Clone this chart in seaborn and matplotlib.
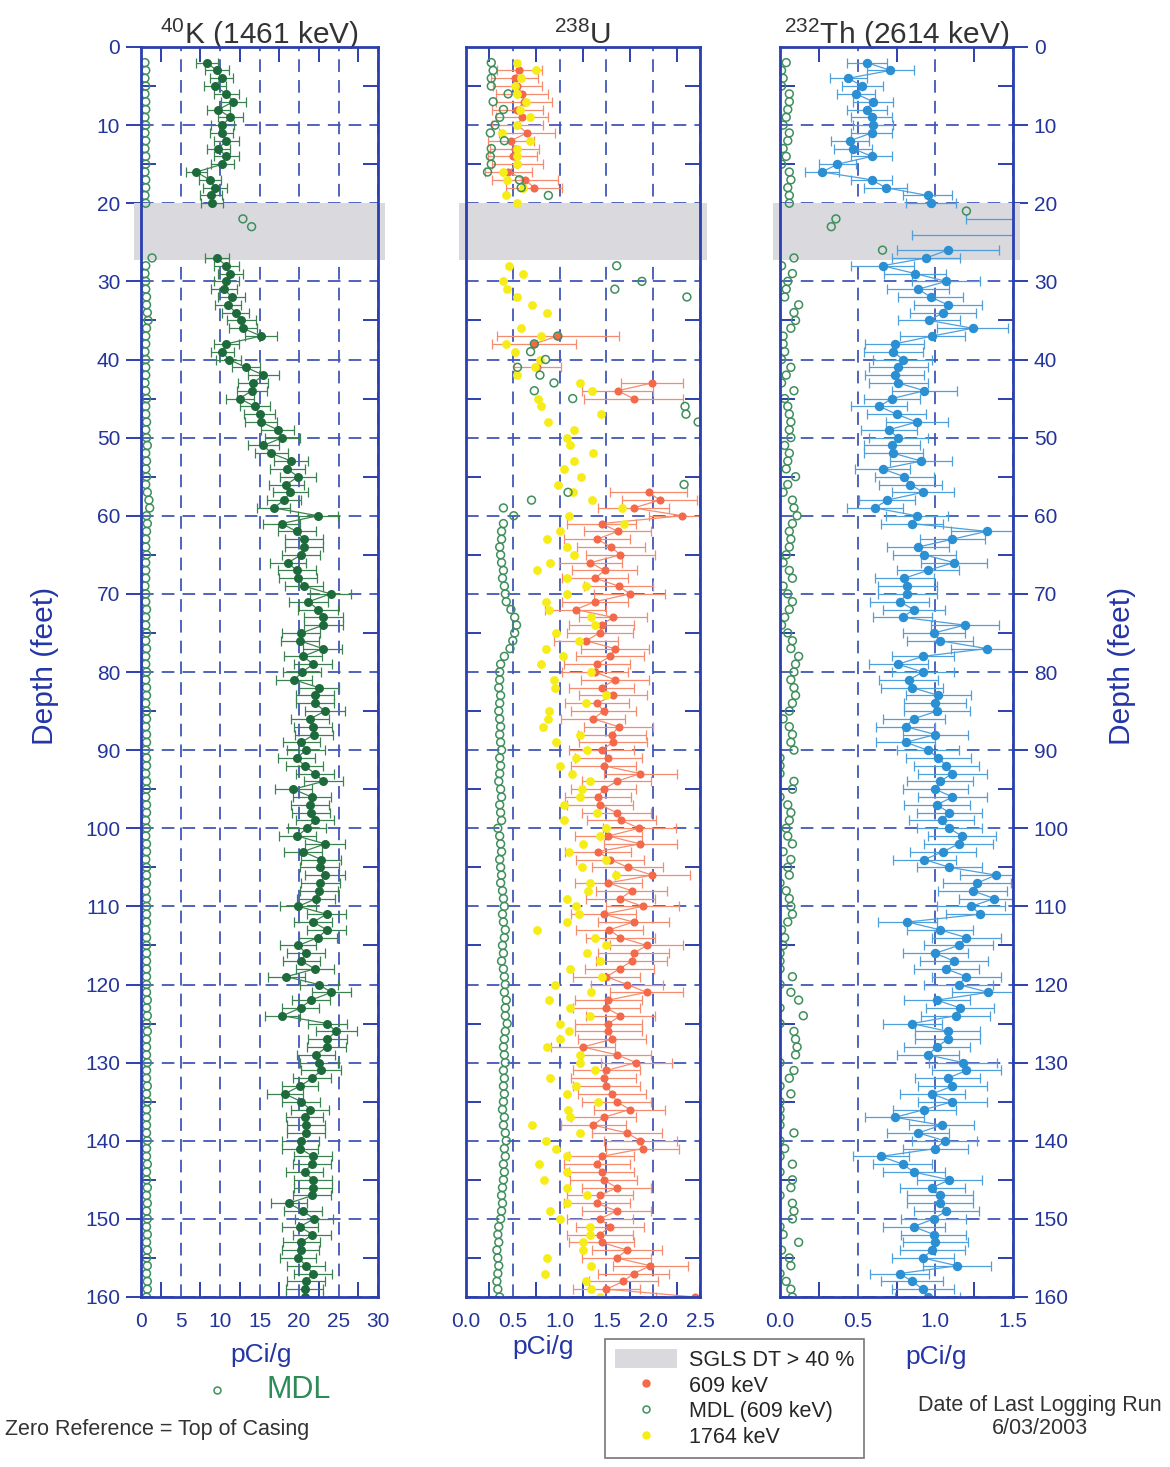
import numpy as np
import pandas as pd
import matplotlib
matplotlib.use("Agg")
import matplotlib.pyplot as plt
import seaborn as sns
from matplotlib.patches import Rectangle, Patch
from matplotlib.lines import Line2D
from matplotlib.transforms import blended_transform_factory
from matplotlib.ticker import MultipleLocator, FormatStrFormatter

# ------------------------------------------------------------------ data
# ---- 40K (1461 keV)
k_depth = list(range(2, 21)) + list(range(27, 161))
k_val = [8.3, 9.6, 10.2, 9.4, 10.8, 11.7, 9.8, 11.3, 10.3, 10.2, 10.8, 9.8, 10.8, 10.3, 7.0, 8.7, 9.4, 8.9, 9.0,
         9.6, 10.8, 11.3, 10.8,
         10.5, 11.5, 11.0, 12.0, 12.7, 12.9, 15.2, 10.8, 10.3, 11.1,
         13.3, 15.5, 14.2, 14.0, 12.5, 14.4, 15.0, 15.2, 17.3, 17.9,
         15.5, 16.5, 19.0, 18.5, 19.9, 18.4, 18.9, 18.1, 16.8, 22.4,
         17.8, 19.7, 20.6, 20.6, 20.3, 18.6, 19.7, 19.9, 20.6, 24.0,
         21.2, 22.4, 23.1, 23.1, 20.3, 20.1, 23.0, 20.5, 21.8, 20.4,
         19.4, 22.5, 22.0, 22.0, 23.3, 21.4, 21.8, 21.9, 20.3, 20.9,
         19.7, 20.7, 22.0, 23.1, 19.3, 21.6, 21.4, 21.5, 22.0, 21.0,
         19.8, 23.3, 20.5, 22.8, 22.6, 23.3, 22.7, 22.5, 22.2, 19.9,
         23.5, 21.8, 23.5, 22.4, 19.9, 20.9, 20.3, 22.0, 18.4, 22.5,
         24.1, 21.5, 20.2, 17.9, 23.6, 24.7, 23.6, 23.5, 22.2, 22.5,
         22.8, 21.7, 20.1, 18.2, 20.3, 21.4, 20.7, 20.9, 20.9, 20.2,
         20.1, 21.8, 21.6, 20.7, 21.8, 21.8, 21.7, 18.7, 20.5, 21.9,
         20.1, 21.7, 20.3, 20.2, 19.9, 20.9, 21.8, 20.9, 20.7, 20.7]
k_err = [1.4, 1.5, 1.5, 1.4, 1.6, 1.6, 1.5, 1.6, 1.5, 1.5, 1.6, 1.5, 1.6, 1.5, 1.3, 1.4, 1.5, 1.4, 1.4,
         1.5, 1.6, 1.6, 1.6,
         1.6, 1.7, 1.6, 1.7, 1.8, 1.8, 2.0, 1.6, 1.5, 1.6,
         1.8, 2.0, 1.9, 1.9, 1.8, 1.9, 2.0, 2.0, 2.1, 2.2,
         2.0, 2.1, 2.2, 2.2, 2.3, 2.2, 2.2, 2.2, 2.1, 2.5,
         2.3, 2.4, 2.4, 2.4, 2.4, 2.3, 2.4, 2.4, 2.4, 2.6,
         2.5, 2.5, 2.5, 2.5, 2.4, 2.4, 2.5, 2.4, 2.4, 2.4,
         2.3, 2.5, 2.4, 2.4, 2.5, 2.4, 2.4, 2.4, 2.3, 2.4,
         2.3, 2.4, 2.4, 2.5, 2.3, 2.4, 2.4, 2.4, 2.4, 2.4,
         2.3, 2.5, 2.4, 2.5, 2.5, 2.5, 2.5, 2.4, 2.4, 2.3,
         2.5, 2.4, 2.5, 2.4, 2.3, 2.4, 2.3, 2.4, 2.3, 2.4,
         2.5, 2.4, 2.3, 2.2, 2.5, 2.6, 2.5, 2.5, 2.4, 2.4,
         2.5, 2.4, 2.3, 2.3, 2.4, 2.4, 2.4, 2.4, 2.4, 2.3,
         2.3, 2.4, 2.4, 2.4, 2.4, 2.4, 2.4, 2.3, 2.4, 2.4,
         2.3, 2.4, 2.3, 2.3, 2.3, 2.4, 2.4, 2.4, 2.4, 2.4]
k_mdl_depth = list(range(2, 21)) + [22, 23] + list(range(27, 161))
k_mdl = [0.5, 0.6, 0.5, 0.6, 0.5, 0.6, 0.6, 0.5, 0.6, 0.5, 0.6, 0.5, 0.6, 0.6, 0.5, 0.6, 0.6, 0.5, 0.6,
         12.9, 14.0,
         1.4, 0.6, 0.5, 0.6,
         0.6, 0.7, 0.7, 0.8, 0.9, 0.7, 0.6, 0.6, 0.5, 0.6,
         0.6, 0.6, 0.5, 0.6, 0.7, 0.6, 0.6, 0.7, 0.6, 0.7,
         0.8, 0.6, 0.7, 0.6, 0.7, 0.6, 0.8, 1.0, 1.1, 0.7,
         0.8, 0.7, 0.6, 0.6, 0.7, 0.6, 0.6, 0.6, 0.5, 0.6,
         0.6, 0.7, 0.6, 0.6, 0.7, 0.6, 0.7, 0.6, 0.6, 0.7,
         0.6, 0.7, 0.7, 0.6, 0.7, 0.7, 0.6, 0.7, 0.7, 0.6,
         0.7, 0.7, 0.6, 0.7, 0.7, 0.6, 0.7, 0.7, 0.6, 0.7,
         0.6, 0.7, 0.7, 0.6, 0.7, 0.7, 0.7, 0.6, 0.7, 0.7,
         0.7, 0.7, 0.6, 0.7, 0.7, 0.7, 0.7, 0.7, 0.7, 0.7,
         0.7, 0.8, 0.7, 0.8, 0.7, 0.8, 0.7, 0.7, 0.7, 0.8,
         0.7, 0.7, 0.8, 0.7, 0.8, 0.7, 0.7, 0.7, 0.7, 0.8,
         0.7, 0.7, 0.8, 0.7, 0.7, 0.8, 0.7, 0.8, 0.7, 0.8,
         0.7, 0.8, 0.7, 0.8, 0.7, 0.8, 0.7, 0.8, 0.8, 0.7]

# ---- 238U : 609 keV
u609_depth = list(range(3, 19)) + [37, 38, 41, 43, 44, 45] + list(range(57, 161))
u609_val = [0.57, 0.52, 0.55, 0.60, 0.62, 0.55, 0.60, 0.55, 0.65, 0.48, 0.52, 0.50, 0.55, 0.45, 0.63, 0.73,
            0.98, 0.73, 0.76, 1.99, 1.62, 1.79,
            1.95, 2.07, 1.79, 2.31,
            1.45, 1.62, 1.40, 1.55, 1.65, 1.33, 1.48, 1.38, 1.63, 1.75,
            1.38, 1.17, 1.57, 1.45, 1.43, 1.28, 1.59, 1.54, 1.40, 1.38,
            1.59, 1.45, 1.57, 1.40, 1.47, 1.36, 1.63, 1.56, 1.57, 1.45,
            1.52, 1.47, 1.86, 1.61, 1.47, 1.41, 1.43, 1.61, 1.66, 1.85,
            1.52, 1.86, 1.41, 1.54, 1.73, 1.99, 1.52, 1.77, 1.65, 1.89,
            1.47, 1.79, 1.53, 1.65, 1.93, 1.79, 1.77, 1.64, 1.50, 1.72,
            1.93, 1.52, 1.50, 1.65, 1.52, 1.52, 1.56, 1.25, 1.61, 1.82,
            1.50, 1.47, 1.50, 1.56, 1.61, 1.75, 1.47, 1.36, 1.72, 1.86,
            1.89, 1.45, 1.40, 1.45, 1.47, 1.61, 1.43, 1.40, 1.61, 1.43,
            1.54, 1.43, 1.45, 1.72, 1.61, 1.97, 1.79, 1.68, 1.50, 2.45]
u609_err = [0.24, 0.25, 0.26, 0.28, 0.30, 0.27, 0.28, 0.27, 0.30, 0.25, 0.26, 0.26, 0.27, 0.25, 0.35, 0.30,
            0.65, 0.45, 0.25, 0.33, 0.38, 0.53,
            0.41, 0.40, 0.38, 0.35,
            0.37, 0.36, 0.35, 0.36, 0.37, 0.34, 0.35, 0.35, 0.37, 0.38,
            0.35, 0.33, 0.36, 0.35, 0.35, 0.34, 0.36, 0.36, 0.35, 0.35,
            0.36, 0.35, 0.36, 0.34, 0.35, 0.34, 0.37, 0.36, 0.36, 0.35,
            0.36, 0.35, 0.39, 0.37, 0.35, 0.35, 0.35, 0.37, 0.37, 0.39,
            0.36, 0.39, 0.35, 0.36, 0.38, 0.40, 0.36, 0.38, 0.37, 0.39,
            0.35, 0.38, 0.36, 0.37, 0.39, 0.38, 0.38, 0.37, 0.36, 0.38,
            0.39, 0.36, 0.36, 0.37, 0.36, 0.36, 0.36, 0.34, 0.37, 0.38,
            0.36, 0.35, 0.36, 0.36, 0.37, 0.38, 0.35, 0.35, 0.37, 0.39,
            0.39, 0.35, 0.35, 0.35, 0.36, 0.37, 0.35, 0.35, 0.37, 0.35,
            0.36, 0.35, 0.35, 0.37, 0.37, 0.40, 0.38, 0.37, 0.36, 0.42]
# ---- 238U : MDL (609 keV)
umdl_depth = list(range(2, 20)) + [28, 30, 31, 32] + list(range(37, 49)) + list(range(56, 161))
umdl_val = [0.27, 0.29, 0.27, 0.27, 0.45, 0.29, 0.40, 0.36, 0.31, 0.26, 0.41, 0.27, 0.26, 0.27, 0.23, 0.57, 0.59, 0.88,
            1.61, 1.88, 1.59, 2.36,
            0.98, 0.73, 0.69, 0.85, 0.55, 0.79, 0.94, 0.73, 1.14, 2.34, 2.35, 2.48,
            2.33, 1.09, 0.70, 0.40, 0.51,
            0.40, 0.38, 0.38, 0.36, 0.37, 0.38, 0.40, 0.39, 0.41, 0.42,
            0.43, 0.48, 0.52, 0.54, 0.52, 0.50, 0.47, 0.41, 0.37, 0.36,
            0.36, 0.35, 0.37, 0.36, 0.35, 0.36, 0.37, 0.36, 0.37, 0.38,
            0.36, 0.37, 0.36, 0.35, 0.37, 0.38, 0.36, 0.37, 0.38, 0.34,
            0.36, 0.37, 0.38, 0.36, 0.37, 0.38, 0.37, 0.39, 0.40, 0.41,
            0.39, 0.40, 0.42, 0.41, 0.39, 0.40, 0.38, 0.40, 0.41, 0.42,
            0.41, 0.43, 0.42, 0.42, 0.44, 0.42, 0.41, 0.40, 0.41, 0.42,
            0.40, 0.41, 0.40, 0.41, 0.40, 0.39, 0.41, 0.40, 0.42, 0.43,
            0.41, 0.42, 0.40, 0.41, 0.40, 0.39, 0.38, 0.39, 0.38, 0.37,
            0.35, 0.34, 0.35, 0.33, 0.34, 0.35, 0.34, 0.33, 0.34, 0.36]
# ---- 238U : 1764 keV
u1764_depth = list(range(2, 21)) + list(range(28, 35)) + list(range(36, 161))
u1764_val = [0.55, 0.75, 0.59, 0.52, 0.55, 0.64, 0.58, 0.68, 0.55, 0.38, 0.68, 0.55, 0.55, 0.54, 0.40, 0.44, 0.61, 0.43, 0.54,
             0.46, 0.61, 0.40, 0.44, 0.55, 0.71, 0.87,
             0.59, 0.80, 0.43, 0.52, 0.79, 0.74, 0.55, 1.22, 1.35, 0.77,
             0.80, 1.44, 0.88, 1.15, 1.08, 1.11, 1.36, 1.15, 1.05, 1.23,
             0.98, 1.14, 1.35, 1.67, 1.10, 1.69, 1.00, 0.87, 1.08, 1.15,
             0.90,
             0.76, 1.08, 1.28, 1.08, 0.86, 0.89, 1.34, 1.38, 0.96, 1.21,
             0.86, 1.04, 0.80, 1.34, 0.94, 0.95, 1.50, 1.28, 0.89, 0.88,
             0.82, 1.22, 0.96, 1.29, 1.17, 1.00, 1.13, 1.32, 1.24, 1.22,
             1.05, 1.40, 1.05, 1.50, 1.43, 1.25, 1.10, 1.50, 1.24, 1.60,
             1.32, 1.30, 1.08, 1.18, 1.21, 1.08, 0.76, 1.38, 1.50, 1.29,
             1.43, 1.11, 1.45, 0.95, 1.34, 0.89, 1.11, 1.33, 1.00, 1.10,
             1.00, 0.87, 1.22, 1.22, 1.38, 0.90, 1.18, 1.08, 1.41, 1.09,
             1.11, 0.71, 1.22, 0.86, 0.96, 1.08, 0.78, 1.08, 0.83, 1.08,
             1.29, 1.08, 0.90, 1.00, 1.32, 1.32, 1.25, 1.25, 0.87, 1.34,
             0.84, 1.28, 1.34, 1.43]

# ---- 232Th (2614 keV)
th_depth = list(range(2, 21)) + [22, 24] + list(range(26, 161))
th_val = [0.56, 0.71, 0.44, 0.53, 0.49, 0.60, 0.56, 0.59, 0.60, 0.59, 0.45, 0.47, 0.59, 0.37, 0.27, 0.59, 0.68, 0.95, 0.97,
          1.65, 1.80,
          1.08, 0.94, 0.66,
          0.87, 1.07,
          0.89, 0.97, 1.08, 1.05, 0.96, 1.24, 0.98, 0.74, 0.73, 0.79,
          0.76, 0.74, 0.76, 0.93, 0.72, 0.64, 0.75, 0.88, 0.70, 0.76,
          0.72, 0.73, 0.91, 0.66, 0.80, 0.84, 0.92, 0.69, 0.61, 0.88,
          0.85, 1.33, 1.11, 0.89, 0.93, 1.12, 0.95, 0.80, 0.82, 0.82,
          0.77, 0.86, 0.79, 1.19, 0.99, 1.03, 1.33, 0.92, 0.76, 0.92,
          0.83, 0.85, 1.02, 1.00, 1.01, 0.86, 0.81, 1.00, 0.81, 0.95,
          1.02, 1.07, 1.11, 1.03, 1.00, 1.11, 1.01, 1.09, 1.04, 1.09,
          1.17, 1.15, 1.05, 0.93, 1.09, 1.39, 1.27, 1.24, 1.38, 1.23,
          1.29, 0.82, 1.03, 1.20, 1.15, 1.00, 1.12, 1.07, 1.20, 1.15,
          1.34, 1.01, 1.16, 1.13, 0.85, 1.08, 1.08, 1.01, 0.95, 1.18,
          1.20, 1.08, 1.11, 0.98, 1.11, 0.93, 0.74, 1.04, 0.89, 1.06,
          1.00, 0.65, 0.79, 0.86, 1.09, 0.98, 1.03, 1.03, 1.07, 0.99,
          0.86, 0.99, 1.00, 0.98, 0.92, 1.14, 0.77, 0.85, 0.92, 0.95]
th_err = [0.13, 0.15, 0.12, 0.13, 0.12, 0.13, 0.13, 0.13, 0.13, 0.13, 0.12, 0.12, 0.13, 0.12, 0.11, 0.13, 0.14, 0.16, 0.16,
          0.45, 0.95,
          0.33, 0.22, 0.20,
          0.20, 0.22,
          0.20, 0.21, 0.22, 0.21, 0.20, 0.23, 0.21, 0.19, 0.19, 0.19,
          0.19, 0.19, 0.19, 0.21, 0.18, 0.18, 0.19, 0.20, 0.18, 0.19,
          0.18, 0.19, 0.20, 0.18, 0.19, 0.20, 0.20, 0.18, 0.18, 0.20,
          0.20, 0.23, 0.21, 0.20, 0.20, 0.21, 0.20, 0.19, 0.19, 0.19,
          0.19, 0.20, 0.19, 0.22, 0.20, 0.21, 0.23, 0.20, 0.19, 0.20,
          0.19, 0.20, 0.21, 0.20, 0.21, 0.20, 0.19, 0.21, 0.19, 0.20,
          0.21, 0.21, 0.22, 0.21, 0.21, 0.22, 0.21, 0.21, 0.21, 0.21,
          0.22, 0.22, 0.21, 0.20, 0.21, 0.23, 0.22, 0.22, 0.23, 0.22,
          0.22, 0.19, 0.21, 0.22, 0.22, 0.21, 0.22, 0.21, 0.22, 0.22,
          0.23, 0.21, 0.22, 0.22, 0.19, 0.21, 0.21, 0.21, 0.20, 0.22,
          0.22, 0.21, 0.22, 0.21, 0.22, 0.20, 0.19, 0.21, 0.20, 0.21,
          0.21, 0.18, 0.19, 0.20, 0.21, 0.21, 0.21, 0.21, 0.21, 0.21,
          0.20, 0.21, 0.21, 0.21, 0.20, 0.22, 0.19, 0.20, 0.20, 0.21]
th_mdl_depth = list(range(2, 24)) + list(range(26, 161))
th_mdl = [0.04, 0.01, 0.02, 0.01, 0.06, 0.06, 0.05, 0.04, 0.02, 0.06, 0.05, 0.02, 0.04, 0.01, 0.06, 0.07, 0.05, 0.06, 0.06,
          1.20, 0.36, 0.33,
          0.66,
          0.09, 0.01, 0.08, 0.05,
          0.04, 0.03, 0.12, 0.09, 0.10, 0.07, 0.02, 0.02, 0.03, 0.01,
          0.07, 0.04, 0.01, 0.09, 0.03, 0.05, 0.06, 0.07, 0.06, 0.07,
          0.03, 0.06, 0.05, 0.04, 0.10, 0.05, 0.02, 0.08, 0.09, 0.11,
          0.08, 0.06, 0.07, 0.06, 0.04, 0.02, 0.06, 0.08, 0.02, 0.05,
          0.08, 0.06, 0.03, 0.01, 0.05, 0.08, 0.07, 0.12, 0.10, 0.09,
          0.07, 0.09, 0.10, 0.08, 0.06, 0.02, 0.06, 0.08, 0.07, 0.09,
          0.00, 0.00, 0.00, 0.09, 0.08, 0.00, 0.05, 0.07, 0.06, 0.04,
          0.05, 0.08, 0.02, 0.07, 0.05, 0.06, 0.00, 0.04, 0.06, 0.07,
          0.08, 0.05, 0.01, 0.03, 0.02, 0.00, 0.00, 0.00, 0.08, 0.00,
          0.07, 0.12, 0.00, 0.15, 0.00, 0.09, 0.10, 0.11, 0.10, 0.00,
          0.09, 0.06, 0.00, 0.07, 0.00, 0.00, 0.00, 0.00, 0.09, 0.00,
          0.03, 0.00, 0.08, 0.00, 0.08, 0.07, 0.00, 0.08, 0.09, 0.08,
          0.00, 0.02, 0.12, 0.01, 0.06, 0.07, 0.00, 0.04, 0.07, 0.08]

band_top, band_bottom = 20.0, 27.2      # SGLS dead time > 40 %

# ------------------------------------------------------------------ style
sns.set_theme(style="white")
plt.rcParams['font.family'] = ['Liberation Sans', 'DejaVu Sans']
plt.rcParams['mathtext.default'] = 'regular'

SPINE = '#2c3fae'
GRID = '#4157b8'
TICKLAB = '#23349a'
BLUE_TXT = '#2436a6'
TITLE_C = '#333333'
BAND = '#d9d9de'
G_PT = '#1d6a3b'
G_LN = '#3b8250'
MDL_C = '#3f8f5c'
OR_PT = '#f3694a'
OR_LN = '#f58c6e'
YEL = '#f6ec17'
TH_PT = '#2a8fd3'
TH_LN = '#4e9fdb'

W, H = 1170, 1467
fig = plt.figure(figsize=(W / 100, H / 100), dpi=100)
fig.patch.set_facecolor('white')


def fpos(x0, x1, y0=47, y1=1297):
    return [x0 / W, 1 - y1 / H, (x1 - x0) / W, (y1 - y0) / H]


ax_k = fig.add_axes(fpos(141, 378))
ax_u = fig.add_axes(fpos(466, 700))
ax_t = fig.add_axes(fpos(780, 1013))

ALL_DEPTHS = range(2, 161)


def full(depths, vals):
    return pd.Series(vals, index=depths, dtype=float).reindex(ALL_DEPTHS)


def style_axis(ax, xmax, xmajor, xminor, left=False, right=False, fmt=None):
    ax.set_xlim(0, xmax)
    ax.set_ylim(160, 0)
    ax.xaxis.set_major_locator(MultipleLocator(xmajor))
    ax.xaxis.set_minor_locator(MultipleLocator(xminor))
    ax.yaxis.set_major_locator(MultipleLocator(10))
    ax.yaxis.set_minor_locator(MultipleLocator(5))
    if fmt:
        ax.xaxis.set_major_formatter(FormatStrFormatter(fmt))
    ax.set_axisbelow(True)
    ax.grid(True, which='major', color=GRID, lw=1.3, linestyle=(0, (7, 4.5)))
    for sp in ax.spines.values():
        sp.set_color(SPINE)
        sp.set_linewidth(2.0)
        sp.set_zorder(5)
    ax.tick_params(axis='x', which='major', length=0, labelsize=15, labelcolor=TICKLAB, pad=11)
    ax.tick_params(axis='x', which='minor', direction='in', length=11, width=1.4, color=SPINE,
                   top=True, bottom=True)
    ax.tick_params(axis='y', which='minor', direction='in', length=11, width=1.4, color=SPINE,
                   left=True, right=True)
    ax.tick_params(axis='y', which='major', direction='out', length=11, width=1.4, color=SPINE,
                   left=left, right=right, labelleft=left, labelright=right,
                   labelsize=15, labelcolor=TICKLAB, pad=4)
    ax.set_xlabel('')
    ax.set_ylabel('')
    tr = blended_transform_factory(ax.transAxes, ax.transData)
    ax.add_patch(Rectangle((-0.03, band_top), 1.06, band_bottom - band_top, transform=tr,
                           facecolor=BAND, edgecolor='none', clip_on=False, zorder=1))


def draw_err_series(ax, depths, vals, errs, lc, pc, s):
    sv = full(depths, vals)
    se = full(depths, errs)
    ax.errorbar(sv.values, np.array(sv.index, dtype=float), xerr=se.values, fmt='-', color=lc,
                ecolor=lc, lw=0.9, elinewidth=0.9, capsize=3.8, capthick=0.9, zorder=2)
    sns.scatterplot(x=vals, y=depths, ax=ax, color=pc, edgecolor=pc, s=s, linewidth=0,
                    legend=False, zorder=3)


def draw_mdl(ax, depths, vals, s=32):
    sns.scatterplot(x=vals, y=depths, ax=ax, color=MDL_C, facecolor='none', edgecolor=MDL_C,
                    s=s, linewidth=1.1, legend=False, zorder=4)


# ---- K panel
style_axis(ax_k, 30, 5, 2.5, left=True)
draw_mdl(ax_k, k_mdl_depth, k_mdl)
draw_err_series(ax_k, k_depth, k_val, k_err, G_LN, G_PT, 42)
ax_k.set_title(r"$^{40}$K (1461 keV)", fontsize=21.5, color=TITLE_C, pad=2)

# ---- U panel
style_axis(ax_u, 2.5, 0.5, 0.25, fmt='%.1f')
draw_err_series(ax_u, u609_depth, u609_val, u609_err, OR_LN, OR_PT, 34)
sns.scatterplot(x=u1764_val, y=u1764_depth, ax=ax_u, color=YEL, edgecolor=YEL, s=40, linewidth=0,
                legend=False, zorder=3.5)
draw_mdl(ax_u, umdl_depth, umdl_val)
ax_u.set_title(r"$^{238}$U", fontsize=21.5, color=TITLE_C, pad=2)

# ---- Th panel
style_axis(ax_t, 1.5, 0.5, 0.25, right=True, fmt='%.1f')
draw_mdl(ax_t, th_mdl_depth, th_mdl)
draw_err_series(ax_t, th_depth, th_val, th_err, TH_LN, TH_PT, 46)
ax_t.set_title(r"$^{232}$Th (2614 keV)", fontsize=21.5, color=TITLE_C, pad=2)

# ---- axis labels & annotations
for xc, yc in ((261, 1355), (543, 1347), (936, 1357)):
    fig.text(xc / W, 1 - yc / H, 'pCi/g', fontsize=19, color=BLUE_TXT, ha='center', va='center')
fig.text(45 / W, 1 - 666 / H, 'Depth (feet)', rotation=90, fontsize=21.5, color=BLUE_TXT,
         ha='center', va='center')
fig.text(1122 / W, 1 - 666 / H, 'Depth (feet)', rotation=90, fontsize=21.5, color=BLUE_TXT,
         ha='center', va='center')

fig.add_artist(Line2D([217 / W], [1 - 1390 / H], marker='o', ms=5, mfc='none', mec=MDL_C,
                      mew=1.1, ls='', transform=fig.transFigure))
fig.text(299 / W, 1 - 1390 / H, 'MDL', fontsize=22, color='#2e8a57', ha='center', va='center')
fig.text(5 / W, 1 - 1430 / H, 'Zero Reference = Top of Casing', fontsize=15.5, color=TITLE_C,
         ha='left', va='center')
fig.text(1040 / W, 1 - 1405 / H, 'Date of Last Logging Run', fontsize=15.5,
         color=TITLE_C, ha='center', va='center')
fig.text(1040 / W, 1 - 1429 / H, '6/03/2003', fontsize=15.5,
         color=TITLE_C, ha='center', va='center')

handles = [Patch(facecolor=BAND, edgecolor='none'),
           Line2D([], [], marker='o', ls='', color=OR_PT, ms=5),
           Line2D([], [], marker='o', ls='', mfc='none', mec=MDL_C, mew=1.1, ms=5),
           Line2D([], [], marker='o', ls='', color=YEL, ms=5)]
labels = ['SGLS DT > 40 %', '609 keV', 'MDL (609 keV)', '1764 keV']
leg = fig.legend(handles, labels, loc='upper left', bbox_to_anchor=(605 / W, 1 - 1339 / H),
                 frameon=True, fancybox=False, edgecolor='#555555', fontsize=15.5,
                 handlelength=2.9, handleheight=1.0, labelspacing=0.18, borderpad=0.45,
                 handletextpad=0.55, borderaxespad=0)
leg.get_frame().set_linewidth(1.2)

fig.savefig('out.png', dpi=100, facecolor='white')
